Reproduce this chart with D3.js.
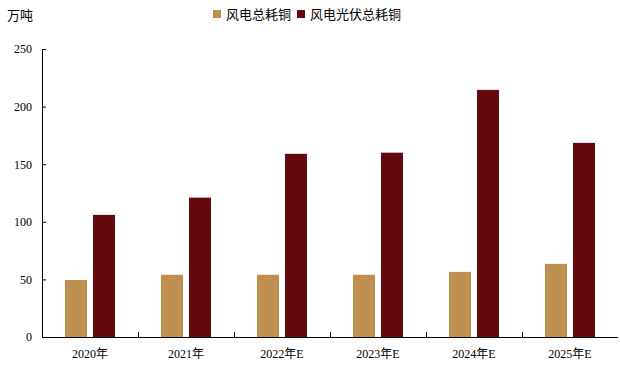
<!DOCTYPE html>
<html><head><meta charset="utf-8">
<script src="https://cdn.jsdelivr.net/npm/d3@7"></script>
<style>body{margin:0;background:#fff}</style>
</head><body>
<svg id="c" width="620" height="369"></svg>
<script>
const categories = ["2020年","2021年","2022年E","2023年E","2024年E","2025年E"];
const seriesNames = ["风电总耗铜","风电光伏总耗铜"];
const windCopper = [49.5, 54, 54, 54, 56.5, 63.5];
const windSolarCopper = [106, 121, 159, 160, 214.5, 168.5];
const yTicks = [0,50,100,150,200,250];
const colors = ["#BF8F4F","#62080E"];

(function(){
const svg = d3.select("#c");
const mLeft = 42, mRight = 618, mTop = 49, mBottom = 337;
const x0 = d3.scaleBand().domain(categories).range([mLeft, mRight]).padding(0);
const x1 = d3.scaleBand().domain([0,1]).range([23, 73]).paddingInner(0.214).paddingOuter(0);
const y = d3.scaleLinear().domain([0,250]).range([mBottom, mTop]);
const serif = "'Liberation Serif','Times New Roman','Noto Sans CJK SC',serif";
const sans = "'Noto Sans CJK SC','Noto Sans',sans-serif";

const data = categories.map((c,i)=>({c, v:[windCopper[i], windSolarCopper[i]]}));
const g = svg.append("g");
data.forEach(d=>{
  d.v.forEach((v,k)=>{
    g.append("rect")
      .attr("x", x0(d.c)+x1(k))
      .attr("width", x1.bandwidth())
      .attr("y", y(v))
      .attr("height", y(0)-y(v))
      .attr("fill", colors[k]);
  });
});

// y axis
const ya = svg.append("g").attr("transform",`translate(${mLeft},0)`)
  .call(d3.axisLeft(y).tickValues(yTicks).tickSizeInner(-4).tickSizeOuter(0).tickPadding(10));
ya.select(".domain").attr("stroke","#000");
ya.selectAll(".tick line").attr("stroke","#000");
ya.selectAll("text").attr("font-family",serif).attr("font-size","12px").attr("fill","#000");

// x axis
const xa = svg.append("g").attr("transform",`translate(0,${mBottom})`)
  .call(d3.axisBottom(x0).tickSize(0).tickPadding(12));
xa.select(".domain").attr("stroke","#000").attr("d",`M${mLeft},0.5H${mRight}`);
xa.selectAll("text").attr("font-family",serif).attr("font-size","12px").attr("fill","#000");
xa.selectAll(".bt").data(categories.slice(1)).enter().append("line")
  .attr("x1",d=>x0(d)+0.5).attr("x2",d=>x0(d)+0.5).attr("y1",0).attr("y2",-5).attr("stroke","#000");

// unit
svg.append("text").attr("x",7).attr("y",20).text("万吨")
  .attr("font-family",sans).attr("font-size","13px").attr("fill","#000");

// legend
const lg = svg.append("g");
const lx = [213, 297];
seriesNames.forEach((n,k)=>{
  lg.append("rect").attr("x",lx[k]).attr("y",10).attr("width",8).attr("height",8).attr("fill",colors[k]);
  lg.append("text").attr("x",lx[k]+13).attr("y",19).text(n)
    .attr("font-family",sans).attr("font-size","13px").attr("fill","#000");
});
})();
</script>
</body></html>
